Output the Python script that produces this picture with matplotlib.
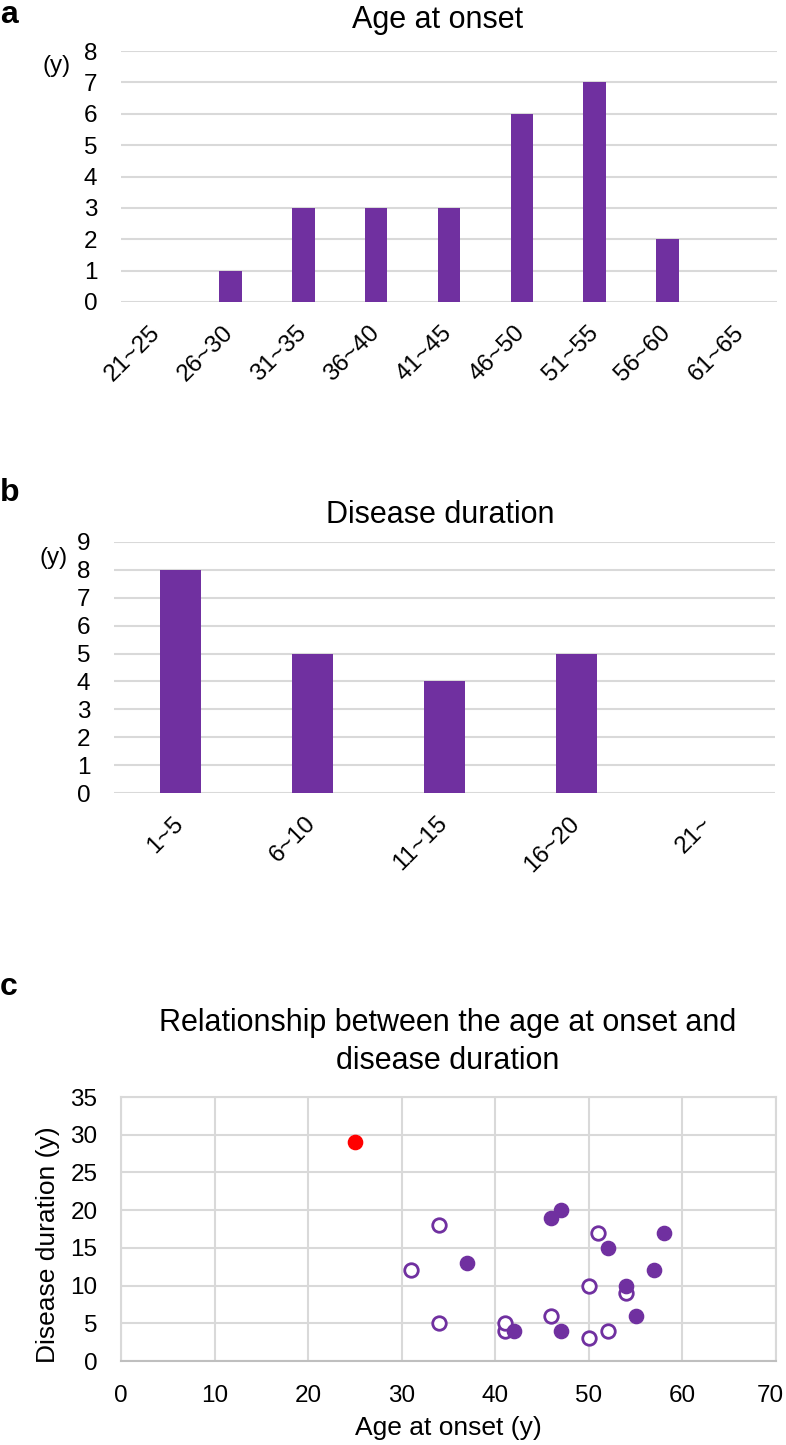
import numpy as np
import matplotlib
matplotlib.use("Agg")
import matplotlib.pyplot as plt
import matplotlib.transforms as mtransforms

plt.rcParams['font.family'] = ['Liberation Sans', 'DejaVu Sans']

# ---- data ----
age_groups = ['21~25', '26~30', '31~35', '36~40', '41~45', '46~50', '51~55', '56~60', '61~65']
age_counts = [0, 1, 3, 3, 3, 6, 7, 2, 0]

dur_groups = ['1~5', '6~10', '11~15', '16~20', '21~']
dur_counts = [8, 5, 4, 5, 0]

# scatter: filled / open purple markers, one red outlier
filled_age = [46, 47, 37, 52, 58, 57, 54, 55, 42, 47]
filled_dur = [19, 20, 13, 15, 17, 12, 10, 6, 4, 4]
open_age = [34, 31, 34, 41, 41, 46, 50, 52, 50, 54, 51]
open_dur = [18, 12, 5, 4, 5, 6, 3, 4, 10, 9, 17]
red_age = [25]
red_dur = [29]

purple = '#7030A0'
grid_c = '#D9D9D9'
W, H = 786, 1445

fig = plt.figure(figsize=(W / 100, H / 100), dpi=100)


def frac(x0, y0, x1, y1):
    # pixel box (top-left origin) -> figure fraction rect
    return [x0 / W, 1 - y1 / H, (x1 - x0) / W, (y1 - y0) / H]


def bar_panel(ax, cats, vals, ymax):
    x = np.arange(len(cats))
    ax.bar(x, vals, width=0.31, color=purple, zorder=3)
    ax.set_xlim(-0.5, len(cats) - 0.5)
    ax.set_ylim(0, ymax)
    ax.set_yticks(range(0, ymax + 1))
    ax.set_xticks(x)
    ax.set_xticklabels(cats, rotation=45, ha='right', rotation_mode='anchor')
    ax.yaxis.grid(True, color=grid_c, linewidth=1.5, zorder=0)
    ax.set_axisbelow(True)
    for s in ax.spines.values():
        s.set_visible(False)
    ax.tick_params(axis='both', length=0, labelsize=17.5)
    ax.tick_params(axis='y', pad=17)
    ax.tick_params(axis='x', pad=14)
    # nudge rotated labels a bit left, like the original
    off = mtransforms.ScaledTranslation(-8 / 100, 0, fig.dpi_scale_trans)
    for lab in ax.get_xticklabels():
        lab.set_transform(lab.get_transform() + off)


# ---- panel a ----
ax1 = fig.add_axes(frac(121, 51, 777, 302))
bar_panel(ax1, age_groups, age_counts, 8)
fig.text(438 / W, 1 - 20 / H, 'Age at onset', ha='center', va='center', fontsize=22)
fig.text(57 / W, 1 - 66 / H, '(y)', ha='center', va='center', fontsize=17.5)
fig.text(0.0, 1.0, 'a', ha='left', va='top', fontsize=23, fontweight='bold')

# ---- panel b ----
ax2 = fig.add_axes(frac(114, 542, 775, 793))
bar_panel(ax2, dur_groups, dur_counts, 9)
fig.text(440 / W, 1 - 515 / H, 'Disease duration', ha='center', va='center', fontsize=22)
fig.text(54 / W, 1 - 558 / H, '(y)', ha='center', va='center', fontsize=17.5)
fig.text(0.0, 1 - 478 / H, 'b', ha='left', va='top', fontsize=23, fontweight='bold')

# ---- panel c ----
ax3 = fig.add_axes(frac(121, 1097, 776, 1361))
ax3.scatter(red_age, red_dur, s=105, color='#FF0000', zorder=3)
ax3.scatter(open_age, open_dur, s=95, facecolor='white', edgecolor=purple, linewidth=2, zorder=3)
ax3.scatter(filled_age, filled_dur, s=105, color=purple, zorder=4)
ax3.set_xlim(0, 70)
ax3.set_ylim(0, 35)
ax3.set_xticks(range(0, 71, 10))
ax3.set_yticks(range(0, 36, 5))
ax3.grid(True, color=grid_c, linewidth=1.5, zorder=0)
ax3.set_axisbelow(True)
for s in ax3.spines.values():
    s.set_color(grid_c)
    s.set_linewidth(1.5)
ax3.spines['bottom'].set_color('#BFBFBF')
ax3.tick_params(axis='both', length=0, labelsize=17.5)
ax3.tick_params(axis='y', pad=17)
ax3.tick_params(axis='x', pad=17)
# keep the last x label inside the canvas
last = ax3.get_xticklabels()[-1]
last.set_transform(last.get_transform() +
                   mtransforms.ScaledTranslation(-6 / 100, 0, fig.dpi_scale_trans))
ax3.set_xlabel('Age at onset (y)', fontsize=19, va='center')
ax3.xaxis.set_label_coords(0.5, (1361 - 1428) / 264)
ax3.set_ylabel('Disease duration (y)', fontsize=19, va='center')
ax3.yaxis.set_label_coords((48 - 121) / 655, (1361 - 1245) / 264)
fig.text(448 / W, 1 - 1042 / H, 'Relationship between the age at onset and\ndisease duration',
         ha='center', va='center', fontsize=22, linespacing=1.35)
fig.text(0.0, 1 - 972 / H, 'c', ha='left', va='top', fontsize=23, fontweight='bold')

fig.savefig('out.png', dpi=100)
